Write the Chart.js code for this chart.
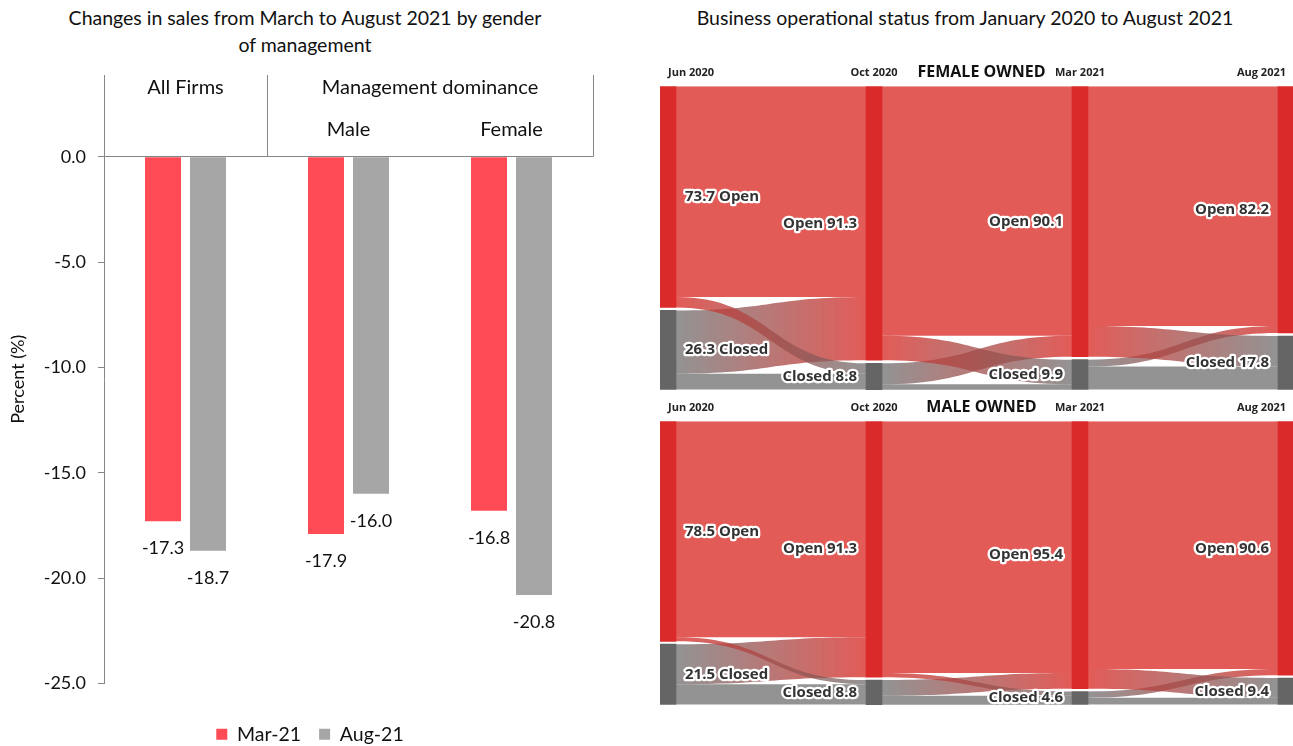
<!DOCTYPE html>
<html>
<head>
<meta charset="utf-8">
<title>Sales changes and business status</title>
<script src="https://cdn.jsdelivr.net/npm/chart.js@4.4.0/dist/chart.umd.min.js"></script>
<style>
  html, body { margin: 0; padding: 0; background: #fff; overflow: hidden; }
  body { width: 1293px; height: 746px; position: relative; font-family: Lato, sans-serif; }
  .title { position: absolute; text-align: center; font-size: 19.5px; line-height: 27px; color: #111; }
  #salesTitle { left: 0; top: 4px; width: 610px; }
  #statusTitle { left: 650px; top: 4px; width: 630px; }
  .box { position: absolute; }
  #salesBox { left: 0; top: 0; width: 620px; height: 754px; }
  #femaleBox { left: 650px; top: 47px; width: 643px; height: 348px; }
  #maleBox { left: 650px; top: 382px; width: 643px; height: 328px; }
</style>
</head>
<body>
<div class="title" id="salesTitle">Changes in sales from March to August 2021 by gender<br>of management</div>
<div class="title" id="statusTitle">Business operational status from January 2020 to August 2021</div>
<div class="box" id="salesBox"><canvas id="chart-sales"></canvas></div>
<div class="box" id="femaleBox"><canvas id="chart-female"></canvas></div>
<div class="box" id="maleBox"><canvas id="chart-male"></canvas></div>
<script>
// data - left chart
var salesGroups = ["All Firms", "Management dominance", "Management dominance"];
var salesCategories = ["", "Male", "Female"];
var mar21 = [-17.3, -17.9, -16.8];
var aug21 = [-18.7, -16.0, -20.8];
var percentTicks = [0, -5, -10, -15, -20, -25];

// data - sankeys
var stages = ["Jun 2020", "Oct 2020", "Mar 2021", "Aug 2021"];
var femaleOpen = [73.7, 91.3, 90.1, 82.2];
var femaleClosed = [26.3, 8.8, 9.9, 17.8];
// per step: open->open, open->closed, closed->open, closed->closed
var femaleFlows = [[70.2, 3.5, 21.1, 5.2], [83.1, 8.2, 7.0, 1.8], [79.9, 10.2, 2.3, 7.6]];
var maleOpen = [78.5, 91.3, 95.4, 90.6];
var maleClosed = [21.5, 8.8, 4.6, 9.4];
var maleFlows = [[77.0, 1.5, 14.3, 7.2], [89.8, 1.5, 5.6, 3.2], [88.4, 7.0, 2.2, 2.4]];

var axisGray = "#868686";
var openRed = "#DA2A2A";
var closedGray = "#656565";
var flowOpen = "rgba(218, 45, 40, 0.78)";
var flowClosed = "rgba(105, 105, 105, 0.72)";

Chart.defaults.font.family = "Lato, sans-serif";
Chart.defaults.color = "#111";
Chart.defaults.animation = false;

// Start chart-sales
var salesHeader = {
    id: "salesHeader",
    afterLayout: function (chart) {
        // legend sits a little right of the canvas centre
        chart.legend.left += 27;
    },
    afterDatasetsDraw: function (chart) {
        var ctx = chart.ctx, area = chart.chartArea;
        var x = chart.scales.x, y = chart.scales.y;
        var zero = y.getPixelForValue(0);
        var half = (x.getPixelForValue(1) - x.getPixelForValue(0)) / 2;
        ctx.save();
        ctx.strokeStyle = axisGray;
        ctx.lineWidth = 1;
        ctx.font = "20px Lato, sans-serif";
        ctx.fillStyle = "#111";
        ctx.textAlign = "center";
        ctx.textBaseline = "middle";
        var start = 0;
        for (var i = 1; i <= salesGroups.length; i++) {
            if (i === salesGroups.length || salesGroups[i] !== salesGroups[start]) {
                var left = x.getPixelForValue(start) - half;
                var right = x.getPixelForValue(i - 1) + half;
                ctx.fillText(salesGroups[start], (left + right) / 2, area.top + 13);
                var px = Math.round(right) + 0.5;
                ctx.beginPath();
                ctx.moveTo(px, area.top);
                ctx.lineTo(px, zero);
                ctx.stroke();
                start = i;
            }
        }
        salesCategories.forEach(function (c, i) {
            ctx.fillText(c, x.getPixelForValue(i), area.top + 55);
        });
        // value labels
        ctx.font = "18px Lato, sans-serif";
        chart.data.datasets.forEach(function (ds, di) {
            chart.getDatasetMeta(di).data.forEach(function (bar, j) {
                ctx.fillText(ds.data[j].toFixed(1), bar.x, bar.y + 27);
            });
        });
        ctx.restore();
    }
};

var ctx = document.getElementById("chart-sales").getContext("2d");
var salesChart = new Chart(ctx, {
    type: "bar",
    data: {
        labels: salesCategories,
        datasets: [
            {
                label: "Mar-21",
                data: mar21,
                backgroundColor: "#FF4B55",
                categoryPercentage: 0.552,
                barPercentage: 0.8
            },
            {
                label: "Aug-21",
                data: aug21,
                backgroundColor: "#A6A6A6",
                categoryPercentage: 0.552,
                barPercentage: 0.8
            }
        ]
    },
    options: {
        maintainAspectRatio: false,
        layout: {
            padding: { top: 75, right: 27, left: 0, bottom: 0 }
        },
        plugins: {
            legend: {
                position: "bottom",
                labels: {
                    boxWidth: 11,
                    boxHeight: 11,
                    padding: 18,
                    font: { size: 19.5 },
                    color: "#111"
                }
            },
            tooltip: { enabled: false }
        },
        scales: {
            x: {
                grid: { display: false },
                border: { display: false },
                ticks: { display: false },
                afterFit: function (s) { s.height = 23; }
            },
            y: {
                min: -25,
                max: 3.88,
                afterBuildTicks: function (s) {
                    s.ticks = percentTicks.map(function (v) { return { value: v }; });
                },
                ticks: {
                    callback: function (v) { return v.toFixed(1); },
                    font: { size: 18 },
                    padding: 12,
                    color: "#111"
                },
                grid: {
                    color: function (c) { return c.tick && c.tick.value === 0 ? axisGray : "rgba(0,0,0,0)"; },
                    tickColor: axisGray,
                    tickLength: 6
                },
                border: { color: axisGray },
                title: {
                    display: true,
                    text: "Percent (%)",
                    font: { size: 18 },
                    color: "#111",
                    padding: { top: 7, bottom: 0 }
                },
                afterFit: function (s) { s.width = 104; }
            }
        }
    },
    plugins: [salesHeader]
});
// Akhir chart-sales

// Start sankey charts
var nodeGap = 1;

function makeFlowPlugin(title, open, closed, flows) {
    return {
        id: "flows",
        beforeDatasetsDraw: function (chart) {
            var c = chart.ctx, x = chart.scales.x, y = chart.scales.y;
            var area = chart.chartArea;
            c.save();
            c.beginPath();
            c.rect(area.left, area.top, area.right - area.left, area.bottom - area.top);
            c.clip();
            flows.forEach(function (f, i) {
                var oo = f[0], oc = f[1], co = f[2], cc = f[3];
                var sClosed = open[i] + nodeGap, tClosed = open[i + 1] + nodeGap;
                var links = [
                    { sy: 0, ty: 0, v: oo, from: flowOpen, to: flowOpen },
                    { sy: sClosed, ty: oo, v: co, from: flowClosed, to: flowOpen },
                    { sy: sClosed + co, ty: tClosed + oc, v: cc, from: flowClosed, to: flowClosed },
                    { sy: oo, ty: tClosed, v: oc, from: flowOpen, to: flowClosed }
                ];
                var x0 = x.getPixelForValue(i) + 8, x1 = x.getPixelForValue(i + 1) - 8;
                var xm = (x0 + x1) / 2;
                links.forEach(function (l) {
                    var y0a = y.getPixelForValue(l.sy), y0b = y.getPixelForValue(l.sy + l.v);
                    var y1a = y.getPixelForValue(l.ty), y1b = y.getPixelForValue(l.ty + l.v);
                    c.beginPath();
                    c.moveTo(x0, y0a);
                    c.bezierCurveTo(xm, y0a, xm, y1a, x1, y1a);
                    c.lineTo(x1, y1b);
                    c.bezierCurveTo(xm, y1b, xm, y0b, x0, y0b);
                    c.closePath();
                    var g = c.createLinearGradient(x0, 0, x1, 0);
                    g.addColorStop(0, l.from);
                    g.addColorStop(1, l.to);
                    c.fillStyle = g;
                    c.fill();
                });
            });
            c.restore();
        },
        afterDatasetsDraw: function (chart) {
            var c = chart.ctx, x = chart.scales.x, y = chart.scales.y;
            var area = chart.chartArea;
            c.save();
            c.font = "bold 15px 'Open Sans', sans-serif";
            c.textBaseline = "middle";
            c.lineJoin = "round";
            c.lineWidth = 4.5;
            c.strokeStyle = "#fff";
            c.fillStyle = "#333";
            stages.forEach(function (s, i) {
                var nodes = [["Open", 0, open[i]], ["Closed", open[i] + nodeGap, closed[i]]];
                nodes.forEach(function (n) {
                    var cy = y.getPixelForValue(n[1] + n[2] / 2);
                    var cx = x.getPixelForValue(i);
                    var txt = i === 0 ? n[2].toFixed(1) + " " + n[0] : n[0] + " " + n[2].toFixed(1);
                    c.textAlign = i === 0 ? "left" : "right";
                    var tx = i === 0 ? cx + 17 : cx - 17;
                    c.strokeText(txt, tx, cy);
                    c.fillText(txt, tx, cy);
                });
            });
            // panel title on the date row
            c.font = "bold 16px 'Open Sans', sans-serif";
            c.textAlign = "center";
            c.fillStyle = "#111";
            c.fillText(title, (area.left + area.right) / 2 + 5, area.top - 14);
            c.restore();
        }
    };
}

function sankeyChart(id, title, open, closed, flows) {
    var ctx = document.getElementById(id).getContext("2d");
    return new Chart(ctx, {
        type: "bar",
        data: {
            datasets: [
                {
                    label: "Open",
                    data: stages.map(function (s, i) { return { x: i, y: [0, open[i]] }; }),
                    backgroundColor: openRed
                },
                {
                    label: "Closed",
                    data: stages.map(function (s, i) { return { x: i, y: [open[i] + nodeGap, open[i] + nodeGap + closed[i]] }; }),
                    backgroundColor: closedGray
                }
            ]
        },
        options: {
            maintainAspectRatio: false,
            layout: {
                padding: { left: 10, right: 0, top: 12, bottom: 5 }
            },
            datasets: {
                bar: { barThickness: 16, grouped: false }
            },
            plugins: {
                legend: { display: false },
                tooltip: { enabled: false }
            },
            scales: {
                x: {
                    type: "linear",
                    position: "top",
                    min: -0.039,
                    max: 3.034,
                    offset: false,
                    afterBuildTicks: function (s) {
                        s.ticks = stages.map(function (t, i) { return { value: i }; });
                    },
                    ticks: {
                        callback: function (v) { return stages[v]; },
                        align: "inner",
                        padding: 7,
                        autoSkip: false,
                        maxRotation: 0,
                        font: { family: "'Open Sans', sans-serif", weight: "bold", size: 11 },
                        color: "#222"
                    },
                    grid: { display: false, drawTicks: false },
                    border: { display: false }
                },
                y: {
                    display: false,
                    min: 0,
                    max: 100 + nodeGap + 0.2,
                    reverse: true
                }
            }
        },
        plugins: [makeFlowPlugin(title, open, closed, flows)]
    });
}

var femaleChart = sankeyChart("chart-female", "FEMALE OWNED", femaleOpen, femaleClosed, femaleFlows);
var maleChart = sankeyChart("chart-male", "MALE OWNED", maleOpen, maleClosed, maleFlows);
// Akhir sankey charts
</script>
</body>
</html>
